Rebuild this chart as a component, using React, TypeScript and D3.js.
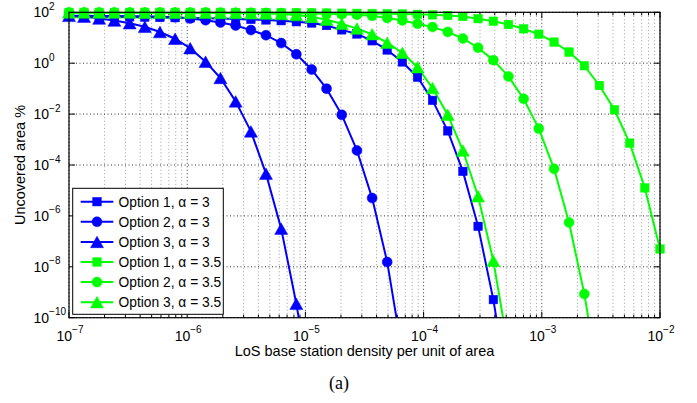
import React from 'react';
import * as d3 from 'd3';

// LoS base station density (x values of every marker)
const density = [
  1.00e-7, 1.34e-7, 1.80e-7, 2.42e-7, 3.26e-7, 4.38e-7, 5.88e-7, 7.90e-7,
  1.06e-6, 1.43e-6, 1.91e-6, 2.57e-6, 3.46e-6, 4.64e-6, 6.24e-6, 8.38e-6,
  1.13e-5, 1.51e-5, 2.03e-5, 2.73e-5, 3.67e-5, 4.92e-5, 6.61e-5, 8.89e-5,
  1.19e-4, 1.60e-4, 2.15e-4, 2.89e-4, 3.89e-4, 5.22e-4, 7.02e-4, 9.43e-4,
  1.27e-3, 1.70e-3, 2.29e-3, 3.07e-3, 4.12e-3, 5.54e-3, 7.44e-3, 1.00e-2,
];

// Uncovered area % per series
const opt1Alpha3 = [
  69.2, 68.4, 67.6, 66.8, 66.1, 64.6, 63.1, 61.7, 60.3, 58.9, 57.5, 55.0, 52.5, 50.1,
  46.8, 42.7, 38.0, 30.2, 20.4, 14.1, 7.59, 3.31, 1.12, 0.282, 0.0347, 2.19e-3,
  5.62e-5, 3.89e-7, 5.13e-10, 1.26e-13,
];
const opt2Alpha3 = [
  72.4, 72.4, 71.6, 70.8, 70.0, 69.2, 67.6, 64.6, 57.5, 49.0, 39.8, 30.2, 20.0, 12.6,
  6.17, 2.24, 0.562, 0.1, 9.33e-3, 3.72e-4, 5.01e-6, 1.55e-8, 3.98e-12,
];
const opt3Alpha3 = [
  72.4, 67.6, 56.9, 47.3, 37.2, 27.2, 16.8, 9.12, 3.89, 1.15, 0.263, 0.0316, 2.09e-3,
  4.57e-5, 3.16e-7, 3.55e-10, 1e-13,
];
const opt1Alpha35 = [
  98.9, 98.9, 98.9, 98.9, 98.9, 98.9, 98.9, 98.9, 98.9, 98.9, 98.9, 97.7, 97.7, 96.6,
  95.5, 95.5, 94.4, 93.3, 92.3, 91.2, 90.2, 88.1, 86.1, 83.2, 79.4, 75.0, 68.4, 56.2,
  44.7, 33.1, 22.4, 13.8, 6.76, 2.75, 0.794, 0.133, 0.0148, 7.24e-4, 1.26e-5, 5.01e-8,
];
const opt2Alpha35 = [
  97.7, 97.7, 97.7, 97.7, 97.7, 97.7, 97.7, 97.7, 97.7, 97.7, 96.6, 95.5, 95.5, 94.4,
  93.3, 91.2, 89.1, 87.1, 84.1, 80.4, 72.4, 60.3, 47.9, 35.5, 26.3, 17.0, 9.33, 4.07,
  1.32, 0.302, 0.0398, 2.69e-3, 7.08e-5, 5.50e-7, 8.51e-10, 2.51e-13,
];
const opt3Alpha35 = [
  97.7, 97.7, 97.7, 97.7, 97.7, 96.6, 96.6, 95.5, 95.5, 95.5, 94.4, 93.3, 91.2, 89.1,
  85.1, 77.6, 66.1, 51.3, 35.5, 22.9, 13.8, 6.31, 2.57, 0.692, 0.105, 9.33e-3,
  3.72e-4, 5.89e-6, 1.74e-8, 5.50e-12,
];

const seriesLabels = [
  'Option 1, α = 3', 'Option 2, α = 3', 'Option 3, α = 3',
  'Option 1, α = 3.5', 'Option 2, α = 3.5', 'Option 3, α = 3.5',
];
const seriesData = [opt1Alpha3, opt2Alpha3, opt3Alpha3, opt1Alpha35, opt2Alpha35, opt3Alpha35];
const seriesColors = ['#0000ff', '#0000ff', '#0000ff', '#00ff00', '#00ff00', '#00ff00'];
const seriesMarkers = ['square', 'circle', 'triangle', 'square', 'circle', 'triangle'];

const xTickExps = [-7, -6, -5, -4, -3, -2];
const yTickExps = [2, 0, -2, -4, -6, -8, -10];

const W = 697;
const H = 403;
const L = 69, R = 660, T = 12.3, B = 317.7;
const FONT = 'Liberation Sans, Arial, Helvetica, sans-serif';

function Marker({ type, cx, cy, color }: { type: string; cx: number; cy: number; color: string }) {
  if (type === 'square') {
    const s = 8.5;
    return <rect x={cx - s / 2} y={cy - s / 2} width={s} height={s} fill={color} stroke={color} strokeWidth={0.5} />;
  }
  if (type === 'circle') {
    return <circle cx={cx} cy={cy} r={5} fill={color} stroke={color} strokeWidth={0.5} />;
  }
  const w = 13, h = 11.5;
  const pts = `${cx},${cy - h / 2} ${cx - w / 2},${cy + h / 2} ${cx + w / 2},${cy + h / 2}`;
  return <polygon points={pts} fill={color} stroke={color} strokeWidth={0.5} />;
}

export default function App() {
  const x = d3.scaleLog().domain([1e-7, 1e-2]).range([L, R]);
  const y = d3.scaleLog().domain([1e-10, 1e2]).range([B, T]);

  const line = d3
    .line<[number, number]>()
    .x((d) => x(d[0]))
    .y((d) => y(d[1]));

  const minorX: number[] = [];
  for (let e = -7; e < -2; e++) {
    for (let m = 2; m <= 9; m++) minorX.push(m * Math.pow(10, e));
  }

  return (
    <svg width={W} height={H} style={{ position: 'absolute', left: 0, top: 0, background: '#fff' }}>
      <defs>
        <clipPath id="plotClip">
          <rect x={L} y={T} width={R - L} height={B - T} />
        </clipPath>
      </defs>
      <rect x={0} y={0} width={W} height={H} fill="#fff" />

      {/* minor x grid */}
      {minorX.map((v, i) => (
        <g key={'mx' + i}>
          <line x1={x(v)} x2={x(v)} y1={T} y2={B} stroke="#9a9a9a" strokeWidth={1} strokeDasharray="1,2.5" />
          <line x1={x(v)} x2={x(v)} y1={B} y2={B - 3} stroke="#000" strokeWidth={1} />
          <line x1={x(v)} x2={x(v)} y1={T} y2={T + 3} stroke="#000" strokeWidth={1} />
        </g>
      ))}
      {/* major x grid */}
      {xTickExps.map((e) => {
        const px = x(Math.pow(10, e));
        return (
          <g key={'X' + e}>
            <line x1={px} x2={px} y1={T} y2={B} stroke="#333" strokeWidth={1} strokeDasharray="1,2.5" />
            <line x1={px} x2={px} y1={B} y2={B - 6} stroke="#000" strokeWidth={1} />
            <line x1={px} x2={px} y1={T} y2={T + 6} stroke="#000" strokeWidth={1} />
          </g>
        );
      })}
      {/* major y grid */}
      {yTickExps.map((e) => {
        const py = y(Math.pow(10, e));
        return (
          <g key={'Y' + e}>
            <line x1={L} x2={R} y1={py} y2={py} stroke="#333" strokeWidth={1} strokeDasharray="1,2.5" />
            <line x1={L} x2={L + 6} y1={py} y2={py} stroke="#000" strokeWidth={1} />
            <line x1={R} x2={R - 6} y1={py} y2={py} stroke="#000" strokeWidth={1} />
          </g>
        );
      })}

      {/* series lines */}
      <g clipPath="url(#plotClip)">
        {seriesData.map((vals, si) => {
          const pts = vals.map((v, i) => [density[i], v] as [number, number]);
          return (
            <path key={'l' + si} d={line(pts) || ''} fill="none" stroke={seriesColors[si]} strokeWidth={2} strokeLinejoin="round" />
          );
        })}
      </g>
      {/* markers */}
      {seriesData.map((vals, si) => (
        <g key={'m' + si}>
          {vals.map((v, i) =>
            v >= 1e-10 && v <= 1e2 ? (
              <Marker key={i} type={seriesMarkers[si]} cx={x(density[i])} cy={y(v)} color={seriesColors[si]} />
            ) : null
          )}
        </g>
      ))}

      {/* axes box */}
      <rect x={L} y={T} width={R - L} height={B - T} fill="none" stroke="#000" strokeWidth={1.2} />

      {/* y tick labels */}
      {yTickExps.map((e) => {
        const py = y(Math.pow(10, e));
        return (
          <text key={'yt' + e} x={33.5} y={py + 5} fontFamily={FONT} fontSize={14} fill="#000">
            10
            <tspan dy={-7.5} fontSize={10}>{e < 0 ? '−' + Math.abs(e) : String(e)}</tspan>
          </text>
        );
      })}
      {/* x tick labels */}
      {xTickExps.map((e) => {
        const px = x(Math.pow(10, e));
        return (
          <text key={'xt' + e} x={px + 1} y={340.5} fontFamily={FONT} fontSize={14} fill="#000" textAnchor="middle">
            10
            <tspan dy={-7.5} fontSize={10}>{'−' + Math.abs(e)}</tspan>
          </text>
        );
      })}

      {/* axis labels */}
      <text x={(L + R) / 2} y={356} fontFamily={FONT} fontSize={14.5} textAnchor="middle" fill="#000">
        LoS base station density per unit of area
      </text>
      <text
        transform={`translate(24.5,${(T + B) / 2}) rotate(-90)`}
        fontFamily={FONT}
        fontSize={14.5}
        textAnchor="middle"
        fill="#000"
      >
        Uncovered area %
      </text>
      <text x={339} y={389} fontFamily="Liberation Serif, Times New Roman, serif" fontSize={18} textAnchor="middle" fill="#000">
        (a)
      </text>

      {/* legend */}
      <g>
        <rect x={72.7} y={188.3} width={150.6} height={126} fill="#fff" stroke="#000" strokeWidth={1} />
        {seriesLabels.map((lab, i) => {
          const ly = 201.7 + i * 20.1;
          return (
            <g key={'lg' + i}>
              <line x1={80.7} x2={113.3} y1={ly} y2={ly} stroke={seriesColors[i]} strokeWidth={2} />
              <Marker type={seriesMarkers[i]} cx={97} cy={ly} color={seriesColors[i]} />
              <text x={118.5} y={ly + 5} fontFamily={FONT} fontSize={13.8} fill="#000">
                {lab}
              </text>
            </g>
          );
        })}
      </g>
    </svg>
  );
}
